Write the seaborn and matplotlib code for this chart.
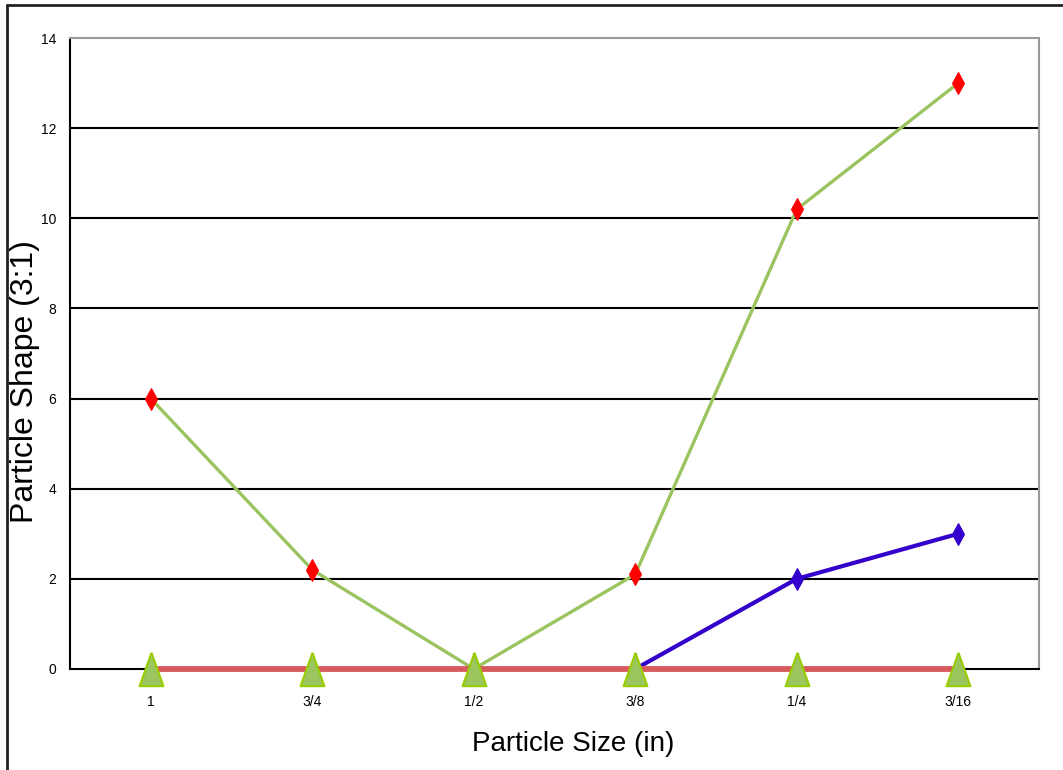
import numpy as np
import pandas as pd
import matplotlib
matplotlib.use("Agg")
import matplotlib.pyplot as plt
import seaborn as sns
from matplotlib.lines import Line2D

# data
sizes = ['1', '3/4', '1/2', '3/8', '1/4', '3/16']
green_vals = [6, 2.2, 0, 2.1, 10.2, 13]
blue_vals = [np.nan, np.nan, np.nan, 0, 2, 3]
red_vals = [0, 0, 0, 0, 0, 0]

sns.set_style("white")
plt.rcParams['font.family'] = ['Liberation Sans', 'DejaVu Sans']

df = pd.DataFrame({'size': sizes, 'green': green_vals, 'blue': blue_vals, 'red': red_vals})

fig = plt.figure(figsize=(10.63, 7.70), dpi=100)
ax = fig.add_axes([0.0659, 0.1312, 0.9774 - 0.0659, 0.9506 - 0.1312])

# black gridlines first
for yv in range(2, 14, 2):
    ax.axhline(yv, color='black', lw=1.5, zorder=1)

sns.lineplot(data=df, x='size', y='green', ax=ax, color='#9BC461', lw=2.4,
             marker='d', markersize=11, markerfacecolor='#FF0000',
             markeredgecolor='#FF0000', zorder=3)
sns.lineplot(data=df.dropna(subset=['blue']), x='size', y='blue', ax=ax, color='#3300CC',
             lw=3, marker='d', markersize=11, markerfacecolor='#3300CC',
             markeredgecolor='#3300CC', zorder=4)
tri = [(0, 1.4), (-1, -1.4), (1, -1.4), (0, 1.4)]
sns.lineplot(data=df, x='size', y='red', ax=ax, color='#D65A5E', lw=4.2,
             marker=tri, markersize=24, markerfacecolor='#9BC55E',
             markeredgecolor='#99CC00', markeredgewidth=1.5, zorder=5, clip_on=False)

ax.set_xlim(-0.5, 5.5)
ax.set_ylim(0, 14)
ax.set_yticks(range(0, 15, 2))
ax.set_xticks(range(len(sizes)))
ax.set_xticklabels(sizes)
ax.set_xticks(np.arange(-0.5, 6, 1), minor=True)
ax.tick_params(axis='x', which='major', length=0, pad=19, labelsize=10, labelcolor='black')
ax.tick_params(axis='x', which='minor', length=5, width=1.2, color='black', direction='out')
ax.tick_params(axis='y', length=4, width=1.5, color='black', direction='out', labelsize=10,
               pad=6, labelcolor='black')

for side in ['top', 'right']:
    ax.spines[side].set_color('#999999')
    ax.spines[side].set_linewidth(1.5)
for side in ['left', 'bottom']:
    ax.spines[side].set_color('black')
    ax.spines[side].set_linewidth(1.5)

ax.set_xlabel('Particle Size (in)', fontsize=20, color='black')
ax.set_ylabel('Particle Shape (3:1)', fontsize=23, color='black')
ax.xaxis.set_label_coords(0.519, -0.098)
ax.yaxis.set_label_coords(-0.031, 0.456)

# outer chart frame (left and top edges visible)
fig.add_artist(Line2D([0.0066, 0.0066], [0, 0.9935], color='#222222', lw=2, transform=fig.transFigure))
fig.add_artist(Line2D([0.0066, 1.0], [0.9935, 0.9935], color='#222222', lw=2, transform=fig.transFigure))

fig.savefig('out.png', dpi=100)
